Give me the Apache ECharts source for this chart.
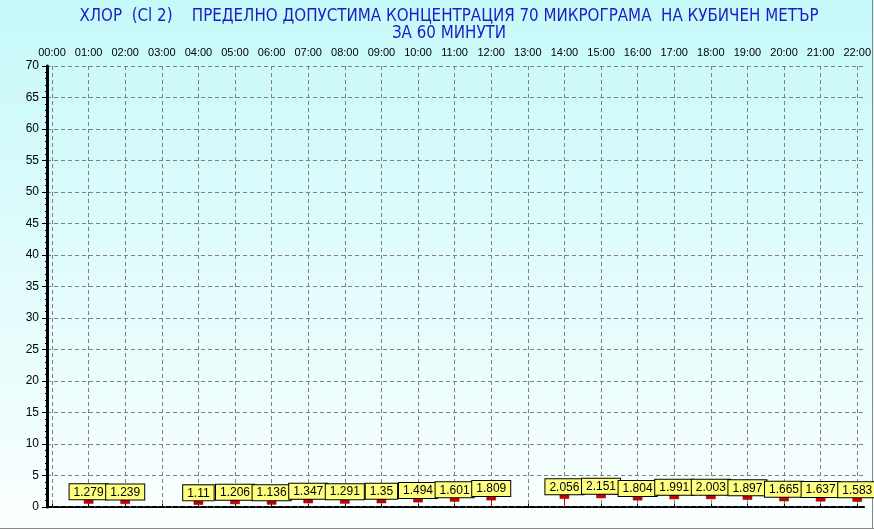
<!DOCTYPE html>
<html><head><meta charset="utf-8">
<script src="https://cdn.jsdelivr.net/npm/echarts@6/dist/echarts.min.js"></script>
<style>html,body{margin:0;padding:0;}#c{width:874px;height:529px;}</style>
</head><body><div id="c"></div>
<script>
const hours = ['00:00','01:00','02:00','03:00','04:00','05:00','06:00','07:00','08:00','09:00','10:00','11:00','12:00','13:00','14:00','15:00','16:00','17:00','18:00','19:00','20:00','21:00','22:00'];
const values = [null,1.279,1.239,null,1.11,1.206,1.136,1.347,1.291,1.35,1.494,1.601,1.809,null,2.056,2.151,1.804,1.991,2.003,1.897,1.665,1.637,1.583];
const dropHours = ['12:00','14:00'];
const yMin = 0, yMax = 70, yStep = 5;
const titleLines = ['ХЛОР  (Cl 2)    ПРЕДЕЛНО ДОПУСТИМА КОНЦЕНТРАЦИЯ 70 МИКРОГРАМА  НА КУБИЧЕН МЕТЪР', 'ЗА 60 МИНУТИ'];

const chart = echarts.init(document.getElementById('c'));
const gridDash = {color:'#808080', type:[4,3], width:1};
const dropData = dropHours.map(h => {
  const v = values[hours.indexOf(h)];
  return [{coord:[h, v]}, {coord:[h, 0]}];
});
chart.setOption({
  animation:false,
  backgroundColor:{type:'linear',x:0,y:0,x2:0,y2:1,colorStops:[{offset:0,color:'#c6f9f9'},{offset:0.6,color:'#e6fcfc'},{offset:1,color:'#fbffff'}]},
  title:{text:titleLines.join('\n'), left:444, textAlign:'center', top:3,
    textStyle:{fontFamily:'DejaVu Sans Condensed', fontWeight:'normal', fontSize:16.8, color:'#1c1cc4', lineHeight:17}},
  grid:[
    {left:52, right:13, top:66, bottom:22},
    {left:47, right:10, top:66, bottom:22}
  ],
  xAxis:[
    {gridIndex:0, type:'category', data:hours, boundaryGap:false, position:'top',
      axisLine:{show:false}, axisTick:{show:true, length:3, lineStyle:{color:'#000'}},
      axisLabel:{color:'#000', fontFamily:'Liberation Sans', fontSize:11, margin:8, interval:0},
      splitLine:{show:true, lineStyle:gridDash}},
    {gridIndex:1, type:'value', min:0, max:1, position:'top', axisLabel:{show:false}, axisTick:{show:false}, splitLine:{show:false},
      axisLine:{show:true, lineStyle:{color:'#000', width:2, type:[5,2]}}},
    {gridIndex:1, type:'value', min:0, max:1, position:'bottom', axisLabel:{show:false}, axisTick:{show:false}, splitLine:{show:false},
      axisLine:{show:true, lineStyle:{color:'#000', width:1, type:[4,2]}}}
  ],
  yAxis:[
    {gridIndex:0, type:'value', min:yMin, max:yMax, interval:yStep, show:false},
    {gridIndex:1, type:'value', min:yMin, max:yMax, interval:yStep, position:'left',
      axisLine:{show:true, lineStyle:{color:'#000', width:3}},
      axisTick:{show:true, length:5, lineStyle:{color:'#000'}},
      minorTick:{show:true, splitNumber:5, length:2, lineStyle:{color:'#000'}},
      axisLabel:{color:'#000', fontFamily:'Liberation Sans', fontSize:12, margin:8},
      splitLine:{show:true, lineStyle:gridDash}},
    {gridIndex:1, type:'value', min:yMin, max:yMax, interval:yStep, position:'right',
      axisLine:{show:true, lineStyle:{color:'#000', width:2}}, axisTick:{show:false}, axisLabel:{show:false}, splitLine:{show:false}}
  ],
  series:[{
    type:'line', xAxisIndex:0, yAxisIndex:0, data:values, connectNulls:false,
    lineStyle:{color:'#e00000', width:1},
    symbol:'rect', symbolSize:[9,5], symbolOffset:[0,2], showAllSymbol:true,
    itemStyle:{color:'#cc0000', borderColor:'#800000', borderWidth:0.5},
    label:{show:true, position:'top', distance:1, offset:[0,2],
      formatter:p => String(p.value),
      backgroundColor:'#ffff80', borderColor:'#000', borderWidth:1, padding:[2,4,1,4],
      color:'#000', fontFamily:'Liberation Sans', fontSize:12, lineHeight:12},
    markLine:{silent:true, symbol:'none', label:{show:false}, lineStyle:{color:'#e00000', width:1, type:'solid'}, data:dropData},
    z:5
  }],
  graphic:[
    {type:'line', shape:{x1:0,y1:528.5,x2:874,y2:528.5}, style:{stroke:'#888', lineWidth:1}},
    {type:'line', shape:{x1:872.5,y1:0,x2:872.5,y2:529}, style:{stroke:'#888', lineWidth:1}}
  ]
});
</script></body></html>
